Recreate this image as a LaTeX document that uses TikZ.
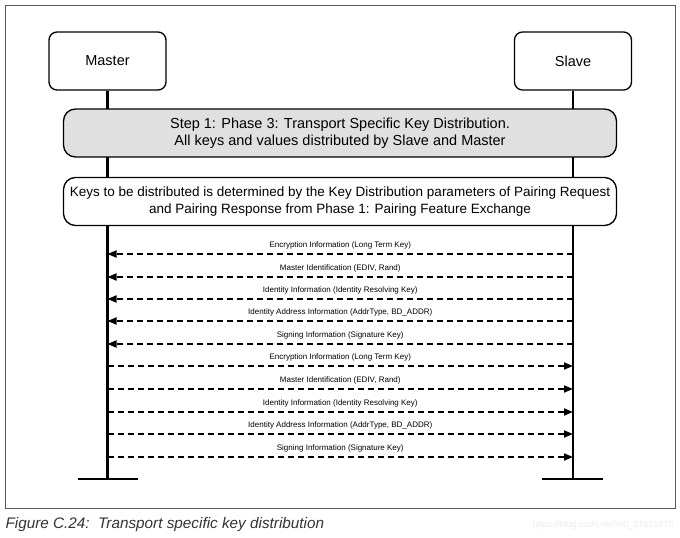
\documentclass[tikz,border=0pt]{standalone}
\usepackage{fontspec}
\setmainfont{Liberation Sans}
\usetikzlibrary{arrows.meta}
\definecolor{phasegray}{HTML}{E0E0E0}
\tikzset{
  entity/.style={draw, line width=1.3pt, rounded corners=8pt, minimum width=117pt,
    minimum height=58pt, font=\fontsize{14.5}{16}\selectfont},
  phase/.style={draw, line width=1.3pt, rounded corners=12pt, minimum width=553pt,
    minimum height=48pt, align=center},
  life/.style={line width=2.4pt},
  endbar/.style={line width=2.6pt},
  msg/.style={line width=1.8pt, dash pattern=on 6.5pt off 3.5pt, -{Triangle[length=9pt,width=7pt]}},
  msglabel/.style={font=\fontsize{8}{9}\selectfont, inner sep=0pt, above=4pt},
}

\begin{document}
\begin{tikzpicture}[x=1pt,y=-1pt]
    \useasboundingbox (0,0) rectangle (680,538);
    \draw[black!65, line width=0.8pt] (5,5) rectangle (675,508);
    \node[entity] (master) at (107.5,61) {Master};
    \node[entity] (slave) at (573,61) {Slave};
    \coordinate (mend) at (107.5,479);
    \coordinate (send) at (573,479);
    \draw[life] (master) -- (mend);
    \draw[life] (slave) -- (send);
    \draw[endbar] ([xshift=-30pt]mend) -- ([xshift=30pt]mend);
    \draw[endbar] ([xshift=-31pt]send) -- ([xshift=30pt]send);
    \node[phase, fill=phasegray, font=\fontsize{14.5}{17}\selectfont] (phase) at (340,133) {Step 1: Phase 3: Transport Specific Key Distribution.\\All keys and values distributed by Slave and Master};
    \node[phase, fill=white, font=\fontsize{13.5}{17}\selectfont] (keys) at (340,201.5) {Keys to be distributed is determined by the Key Distribution parameters of Pairing Request\\and Pairing Response from Phase 1: Pairing Feature Exchange};
    % slave to master
    \coordinate (m1) at (107.5,254); \coordinate (s1) at (573,254);
    \coordinate (m2) at (107.5,277); \coordinate (s2) at (573,277);
    \coordinate (m3) at (107.5,299); \coordinate (s3) at (573,299);
    \coordinate (m4) at (107.5,321); \coordinate (s4) at (573,321);
    \coordinate (m5) at (107.5,344); \coordinate (s5) at (573,344);
    \draw[msg] (s1) -- node[msglabel] {Encryption Information (Long Term Key)} (m1);
    \draw[msg] (s2) -- node[msglabel] {Master Identification (EDIV, Rand)} (m2);
    \draw[msg] (s3) -- node[msglabel] {Identity Information (Identity Resolving Key)} (m3);
    \draw[msg] (s4) -- node[msglabel] {Identity Address Information (AddrType, BD\_ADDR)} (m4);
    \draw[msg] (s5) -- node[msglabel] {Signing Information (Signature Key)} (m5);
    % master to slave
    \coordinate (m6) at (107.5,366); \coordinate (s6) at (573,366);
    \coordinate (m7) at (107.5,389); \coordinate (s7) at (573,389);
    \coordinate (m8) at (107.5,412); \coordinate (s8) at (573,412);
    \coordinate (m9) at (107.5,434); \coordinate (s9) at (573,434);
    \coordinate (m10) at (107.5,457); \coordinate (s10) at (573,457);
    \draw[msg] (m6) -- node[msglabel] {Encryption Information (Long Term Key)} (s6);
    \draw[msg] (m7) -- node[msglabel] {Master Identification (EDIV, Rand)} (s7);
    \draw[msg] (m8) -- node[msglabel] {Identity Information (Identity Resolving Key)} (s8);
    \draw[msg] (m9) -- node[msglabel] {Identity Address Information (AddrType, BD\_ADDR)} (s9);
    \draw[msg] (m10) -- node[msglabel] {Signing Information (Signature Key)} (s10);
    \node[anchor=west, text=black!80, font=\itshape\fontsize{15.3}{18}\selectfont] (caption) at (2,525) {Figure C.24:\ \ Transport specific key distribution};
    \node[anchor=east, text=black!8, font=\fontsize{9}{11}\selectfont] (mark) at (677,525) {https://blog.csdn.net/m0\_37621078};
  \end{tikzpicture}
\end{document}
